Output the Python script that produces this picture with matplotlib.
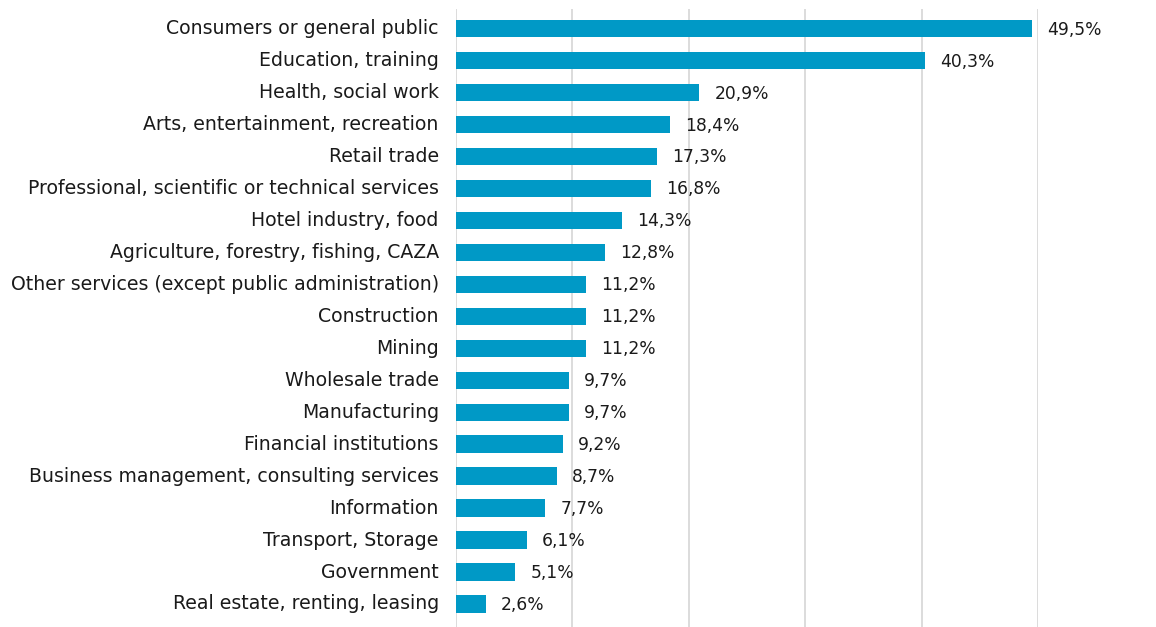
import matplotlib.pyplot as plt

categories = [
    "Consumers or general public",
    "Education, training",
    "Health, social work",
    "Arts, entertainment, recreation",
    "Retail trade",
    "Professional, scientific or technical services",
    "Hotel industry, food",
    "Agriculture, forestry, fishing, CAZA",
    "Other services (except public administration)",
    "Construction",
    "Mining",
    "Wholesale trade",
    "Manufacturing",
    "Financial institutions",
    "Business management, consulting services",
    "Information",
    "Transport, Storage",
    "Government",
    "Real estate, renting, leasing",
]
values = [49.5, 40.3, 20.9, 18.4, 17.3, 16.8, 14.3, 12.8, 11.2, 11.2, 11.2,
          9.7, 9.7, 9.2, 8.7, 7.7, 6.1, 5.1, 2.6]
value_labels = ["49,5%", "40,3%", "20,9%", "18,4%", "17,3%", "16,8%", "14,3%",
                "12,8%", "11,2%", "11,2%", "11,2%", "9,7%", "9,7%", "9,2%",
                "8,7%", "7,7%", "6,1%", "5,1%", "2,6%"]

plt.rcParams["font.family"] = ["DejaVu Sans"]

fig = plt.figure(figsize=(11.56, 6.27), dpi=100)
W, H = 1156, 627
left, right, top, bottom = 455.5, 1038, 9, 627
ax = fig.add_axes([left / W, 1 - bottom / H, (right - left) / W, (bottom - top) / H])

pos = list(range(len(categories)))
ax.barh(pos, values, height=0.54, color="#0099C6", zorder=3)

for y, v, lab in zip(pos, values, value_labels):
    ax.annotate(lab, (v, y), xytext=(11, -0.8), textcoords="offset points",
                va="center", ha="left", fontsize=12.3, color="#1a1a1a")

ax.set_xlim(0, 50)
ax.set_ylim(18.72, -0.61)
ax.set_xticks([0, 10, 20, 30, 40, 50])
ax.xaxis.grid(True, color="#D9D9D9", linewidth=1.3, zorder=0)
ax.tick_params(axis="x", length=0, labelbottom=False)
ax.tick_params(axis="y", length=0, pad=12)
ax.set_yticks(pos)
ax.set_yticklabels(categories, fontsize=13.6, color="#1a1a1a")
for lbl in ax.get_yticklabels():
    lbl.set_va("center")
for s in ax.spines.values():
    s.set_visible(False)

fig.savefig("out.png", dpi=100)
